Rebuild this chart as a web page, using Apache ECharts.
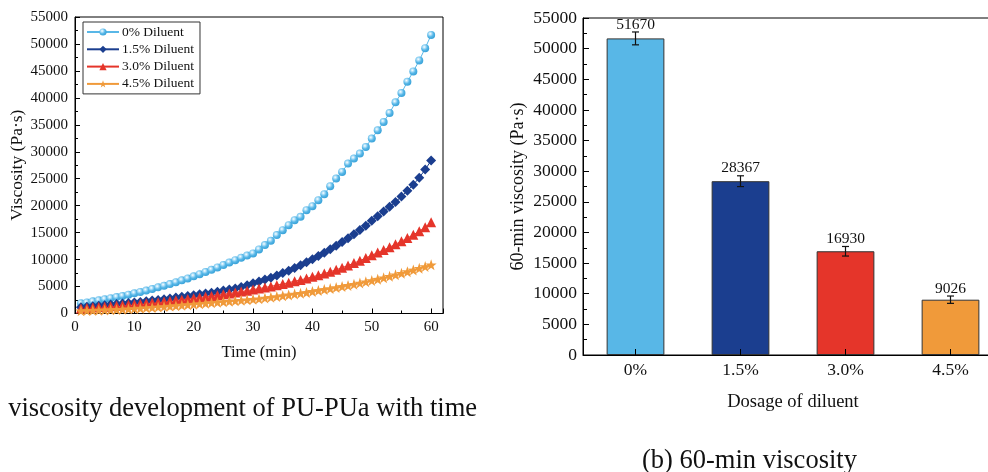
<!DOCTYPE html>
<html>
<head>
    <meta charset="UTF-8">
    <title>Viscosity</title>
    <script src="https://cdn.jsdelivr.net/npm/echarts@6/dist/echarts.min.js"></script>
    <style>
        html, body { margin: 0; padding: 0; background: #fff; }
        #main { width: 988px; height: 472px; }
    </style>
</head>
<body>
<div id="main"></div>
<script>
    // 左图：粘度随时间变化 (每分钟一个点)
    var times = [1,2,3,4,5,6,7,8,9,10,11,12,13,14,15,16,17,18,19,20,
        21,22,23,24,25,26,27,28,29,30,31,32,33,34,35,36,37,38,39,40,
        41,42,43,44,45,46,47,48,49,50,51,52,53,54,55,56,57,58,59,60];
    var dil0 = [1900,2050,2250,2450,2650,2850,3050,3250,3500,3750,
        4000,4250,4550,4850,5150,5450,5800,6150,6500,6900,
        7300,7700,8100,8550,9000,9450,9900,10350,10750,11150,
        11890,12690,13490,14540,15460,16390,17310,17930,19170,19910,
        21020,22130,23610,25040,26260,27810,28740,29670,30890,32440,
        33980,35520,37190,39170,40890,43000,44910,46940,49220,51670];
    var dil15 = [1150,1250,1350,1450,1550,1650,1750,1850,1950,2050,
        2150,2250,2400,2500,2650,2800,2950,3100,3250,3400,
        3550,3700,3850,4050,4250,4450,4650,4900,5250,5600,
        5950,6300,6650,7050,7500,7950,8450,8950,9500,10050,
        10650,11250,11900,12550,13250,13950,14700,15500,16300,17200,
        18050,18900,19800,20700,21700,22750,23900,25200,26700,28367];
    var dil30 = [950,1030,1110,1190,1270,1350,1430,1520,1610,1700,
        1800,1900,2000,2100,2210,2320,2440,2560,2690,2820,
        2960,3100,3250,3400,3560,3720,3890,4060,4240,4430,
        4620,4820,5030,5250,5480,5720,5970,6230,6500,6800,
        7100,7400,7750,8100,8500,8900,9350,9800,10300,10800,
        11300,11800,12300,12850,13400,14000,14600,15250,16000,16930];
    var dil45 = [500,540,580,620,660,700,750,800,860,920,
        990,1060,1130,1210,1290,1370,1460,1550,1640,1730,
        1820,1910,2000,2090,2180,2270,2360,2450,2540,2630,
        2730,2860,3000,3150,3300,3450,3600,3750,3900,4100,
        4270,4450,4630,4820,5010,5210,5420,5640,5870,6110,
        6360,6620,6890,7170,7460,7760,8070,8390,8710,9026];
    var lineNames = ['0% Diluent', '1.5% Diluent', '3.0% Diluent', '4.5% Diluent'];

    // 右图：60 min 粘度
    var dosages = ['0%', '1.5%', '3.0%', '4.5%'];
    var visc60 = [51670, 28367, 16930, 9026];
    var visc60Err = [1050, 880, 780, 600];

    var colors = ['#58B7E7', '#1B3E8F', '#E5352A', '#F09A3A'];
    var serif = 'Liberation Serif';
    var starPath = 'path://M0,-10L2.35,-3.24L9.51,-3.09L3.8,1.24L5.88,8.09L0,4L-5.88,8.09L-3.8,1.24L-9.51,-3.09L-2.35,-3.24Z';

    function pairs(vals) {
        return times.map(function (t, i) { return [t, vals[i]]; });
    }
    function plain(v) { return String(v); }

    var chart = echarts.init(document.getElementById('main'));

    var lineSeries = [
        { vals: dil0, symbol: 'circle', size: 8,
          color: { type: 'radial', x: 0.38, y: 0.35, r: 0.65,
              colorStops: [{ offset: 0, color: '#ffffff' }, { offset: 0.35, color: '#9ad6f5' }, { offset: 0.6, color: '#58B7E7' }, { offset: 1, color: '#3aa3d9' }] } },
        { vals: dil15, symbol: 'diamond', size: 10, color: colors[1] },
        { vals: dil30, symbol: 'triangle', size: 10, color: colors[2] },
        { vals: dil45, symbol: starPath, size: 11, color: colors[3] }
    ].map(function (s, i) {
        return {
            name: lineNames[i],
            type: 'line',
            xAxisIndex: 0,
            yAxisIndex: 0,
            data: pairs(s.vals),
            symbol: s.symbol,
            symbolSize: s.size,
            showAllSymbol: true,
            lineStyle: { color: colors[i], width: 1 },
            itemStyle: { color: s.color, borderWidth: 0 },
            emphasis: { disabled: true },
            animation: false
        };
    });

    var option = {
        animation: false,
        grid: [
            { left: 75, top: 17, width: 368, height: 296.5, show: true, borderColor: '#000', borderWidth: 1, outerBoundsMode: 'none' },
            { left: 583, top: 18, width: 420, height: 337, show: true, borderColor: '#000', borderWidth: 1, outerBoundsMode: 'none' }
        ],
        legend: {
            data: lineNames,
            orient: 'vertical',
            left: 83,
            top: 22,
            padding: [3, 6, 3, 3],
            itemGap: 3.3,
            itemWidth: 32,
            itemHeight: 9,
            backgroundColor: '#fff',
            borderColor: '#333',
            borderWidth: 1,
            borderRadius: 0,
            textStyle: { fontFamily: serif, fontSize: 13.5, color: '#111', lineHeight: 14, padding: [0, 0, 0, -2] }
        },
        xAxis: [
            {
                type: 'value', gridIndex: 0, min: 0, max: 62, interval: 10,
                name: 'Time (min)', nameLocation: 'middle', nameGap: 31,
                nameTextStyle: { fontFamily: serif, fontSize: 16.5, color: '#111' },
                axisLine: { show: true, lineStyle: { color: '#000', width: 1 } },
                axisTick: { show: true, inside: true, length: 5, lineStyle: { color: '#000' } },
                minorTick: { show: true, splitNumber: 2, length: 3, lineStyle: { color: '#000' } },
                axisLabel: { fontFamily: serif, fontSize: 15, color: '#111', margin: 6, showMaxLabel: false, formatter: plain },
                splitLine: { show: false }
            },
            {
                type: 'category', gridIndex: 1, data: dosages, z: 10,
                name: 'Dosage of diluent', nameLocation: 'middle', nameGap: 38,
                nameTextStyle: { fontFamily: serif, fontSize: 18.5, color: '#111' },
                axisLine: { show: true, lineStyle: { color: '#000', width: 1 } },
                axisTick: { show: true, inside: true, alignWithLabel: true, length: 6, lineStyle: { color: '#000' } },
                axisLabel: { fontFamily: serif, fontSize: 17.5, color: '#111', margin: 6 },
                splitLine: { show: false }
            }
        ],
        yAxis: [
            {
                type: 'value', gridIndex: 0, min: 0, max: 55000, interval: 5000,
                name: 'Viscosity (Pa·s)', nameLocation: 'middle', nameGap: 46, nameRotate: 90,
                nameTextStyle: { fontFamily: serif, fontSize: 17.5, color: '#111' },
                axisLine: { show: true, lineStyle: { color: '#000', width: 1 } },
                axisTick: { show: true, inside: true, length: 5, lineStyle: { color: '#000' } },
                minorTick: { show: true, splitNumber: 2, length: 3, lineStyle: { color: '#000' } },
                axisLabel: { fontFamily: serif, fontSize: 15, color: '#111', margin: 7, formatter: plain },
                splitLine: { show: false }
            },
            {
                type: 'value', gridIndex: 1, min: 0, max: 55000, interval: 5000, z: 10,
                name: '60-min viscosity (Pa·s)', nameLocation: 'middle', nameGap: 56, nameRotate: 90,
                nameTextStyle: { fontFamily: serif, fontSize: 18, color: '#111' },
                axisLine: { show: true, lineStyle: { color: '#000', width: 1 } },
                axisTick: { show: true, inside: true, length: 6, lineStyle: { color: '#000' } },
                minorTick: { show: true, splitNumber: 2, length: 4, lineStyle: { color: '#000' } },
                axisLabel: { fontFamily: serif, fontSize: 17.5, color: '#111', margin: 6, formatter: plain },
                splitLine: { show: false }
            }
        ],
        series: lineSeries.concat([
            {
                type: 'bar',
                xAxisIndex: 1,
                yAxisIndex: 1,
                barWidth: '55%',
                data: visc60.map(function (v, i) {
                    return { value: v, itemStyle: { color: colors[i] } };
                }),
                itemStyle: { borderColor: '#333', borderWidth: 1 },
                emphasis: { disabled: true }
            },
            {
                type: 'custom',
                xAxisIndex: 1,
                yAxisIndex: 1,
                z: 5,
                data: visc60.map(function (v, i) {
                    return [i, v - visc60Err[i], v + visc60Err[i], v];
                }),
                renderItem: function (params, api) {
                    var lo = api.coord([api.value(0), api.value(1)]);
                    var hi = api.coord([api.value(0), api.value(2)]);
                    var cap = 3.5;
                    var st = { stroke: '#111', lineWidth: 1.2 };
                    return {
                        type: 'group',
                        children: [
                            { type: 'line', shape: { x1: hi[0], y1: hi[1], x2: lo[0], y2: lo[1] }, style: st },
                            { type: 'line', shape: { x1: hi[0] - cap, y1: hi[1], x2: hi[0] + cap, y2: hi[1] }, style: st },
                            { type: 'line', shape: { x1: lo[0] - cap, y1: lo[1], x2: lo[0] + cap, y2: lo[1] }, style: st },
                            { type: 'text', x: hi[0], y: hi[1] + 0.5,
                              style: { text: String(api.value(3)), align: 'center', verticalAlign: 'bottom',
                                       font: '15.5px "' + serif + '"', fill: '#111' } }
                        ]
                    };
                }
            }
        ]),
        graphic: [
            { type: 'text', right: 988 - 477, top: 396,
              style: { text: 'viscosity development of PU-PUa with time', font: '26.5px "' + serif + '"', fill: '#111', align: 'right' } },
            { type: 'text', left: 642, top: 448,
              style: { text: '(b) 60-min viscosity', font: '26.5px "' + serif + '"', fill: '#111' } }
        ]
    };

    chart.setOption(option);
</script>
</body>
</html>
